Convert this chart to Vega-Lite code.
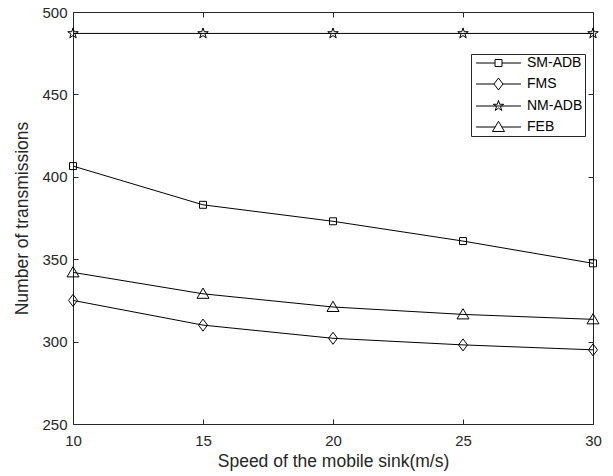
{
  "$schema": "https://vega.github.io/schema/vega-lite/v6.json",
  "width": 520,
  "height": 412,
  "autosize": "none",
  "padding": {"left": 73, "top": 12, "right": 20, "bottom": 52},
  "background": "white",
  "config": {
    "font": "Liberation Sans",
    "view": {"stroke": null},
    "axis": {
      "domainColor": "#262626",
      "domainWidth": 1,
      "tickColor": "#262626",
      "tickWidth": 1,
      "tickSize": -5,
      "grid": false,
      "labelFlush": false,
      "labelColor": "#262626",
      "labelFont": "Liberation Sans",
      "labelFontSize": 15,
      "titleFont": "Liberation Sans",
      "titleFontSize": 17.5,
      "titleFontWeight": "normal",
      "titleColor": "#262626"
    }
  },
  "data": {
    "values": [
      {"series": "SM-ADB", "speed": 10, "value": 406.5},
      {"series": "SM-ADB", "speed": 15, "value": 383},
      {"series": "SM-ADB", "speed": 20, "value": 373},
      {"series": "SM-ADB", "speed": 25, "value": 361},
      {"series": "SM-ADB", "speed": 30, "value": 347.5},
      {"series": "FMS", "speed": 10, "value": 325},
      {"series": "FMS", "speed": 15, "value": 310},
      {"series": "FMS", "speed": 20, "value": 302},
      {"series": "FMS", "speed": 25, "value": 298},
      {"series": "FMS", "speed": 30, "value": 295},
      {"series": "NM-ADB", "speed": 10, "value": 487},
      {"series": "NM-ADB", "speed": 15, "value": 487},
      {"series": "NM-ADB", "speed": 20, "value": 487},
      {"series": "NM-ADB", "speed": 25, "value": 487},
      {"series": "NM-ADB", "speed": 30, "value": 487},
      {"series": "FEB", "speed": 10, "value": 342},
      {"series": "FEB", "speed": 15, "value": 329},
      {"series": "FEB", "speed": 20, "value": 321},
      {"series": "FEB", "speed": 25, "value": 316.5},
      {"series": "FEB", "speed": 30, "value": 313.5}
    ]
  },
  "layer": [
    {
      "mark": {"type": "line", "color": "black", "strokeWidth": 1},
      "encoding": {
        "x": {"field": "speed", "type": "quantitative", "scale": {"domain": [10, 30], "nice": false, "zero": false},
              "axis": {"orient": "bottom", "values": [10, 15, 20, 25, 30], "title": "Speed of the mobile sink(m/s)", "labelPadding": 14, "titlePadding": 4}},
        "y": {"field": "value", "type": "quantitative", "scale": {"domain": [250, 500], "nice": false, "zero": false},
              "axis": {"orient": "left", "values": [250, 300, 350, 400, 450, 500], "title": "Number of transmissions", "labelPadding": 11, "titlePadding": 10}},
        "detail": {"field": "series"}
      }
    },
    {
      "mark": {"type": "point", "filled": false, "stroke": "black", "strokeWidth": 1, "opacity": 1, "size": 144},
      "encoding": {
        "x": {"field": "speed", "type": "quantitative", "axis": null},
        "y": {"field": "value", "type": "quantitative", "axis": null},
        "shape": {
          "field": "series", "type": "nominal",
          "scale": {
            "domain": ["SM-ADB", "FMS", "NM-ADB", "FEB"],
            "range": [
              "M-0.58,-0.58H0.58V0.58H-0.58Z",
              "M0,-1L0.75,0L0,1L-0.75,0Z",
              "M0,-0.92L0.207,-0.284L0.875,-0.284L0.334,0.109L0.541,0.744L0,0.351L-0.541,0.744L-0.334,0.109L-0.875,-0.284L-0.207,-0.284Z",
              "M0,-0.95L1,0.75L-1,0.75Z"
            ]
          },
          "legend": null
        }
      }
    },
    {
      "mark": {"type": "point", "filled": false, "stroke": "black", "strokeWidth": 1, "opacity": 0, "size": 144},
      "encoding": {
        "x": {"field": "speed", "type": "quantitative",
              "axis": {"orient": "top", "values": [10, 15, 20, 25, 30], "labels": false, "title": null}},
        "y": {"field": "value", "type": "quantitative",
              "axis": {"orient": "right", "values": [250, 300, 350, 400, 450, 500], "labels": false, "title": null}},
        "shape": {
          "field": "series", "type": "nominal",
          "scale": {
            "domain": ["SM-ADB", "FMS", "NM-ADB", "FEB"],
            "range": [
              "M-0.67,0H2.5M3.67,0H6.83M2.5,-0.58H3.67V0.58H2.5Z",
              "M-0.67,0H2.33M3.83,0H6.83M3.08,-1L3.83,0L3.08,1L2.33,0Z",
              "M-0.67,0H6.83M3.083,-0.92L3.29,-0.284L3.958,-0.284L3.417,0.109L3.624,0.744L3.083,0.351L2.542,0.744L2.749,0.109L2.208,-0.284L2.876,-0.284Z",
              "M-0.67,0H2.52M3.64,0H6.83M3.08,-0.95L4.08,0.75L2.08,0.75Z"
            ]
          },
          "legend": {
            "title": null,
            "orient": "none",
            "legendX": 398,
            "legendY": 42,
            "strokeColor": "#262626",
            "fillColor": "white",
            "padding": 2,
            "symbolSize": 144,
            "symbolOpacity": 1,
            "symbolStrokeColor": "black",
            "symbolStrokeWidth": 1,
            "symbolFillColor": "transparent",
            "labelFont": "Liberation Sans",
            "labelFontSize": 14,
            "labelColor": "black",
            "labelOffset": 40,
            "labelExpr": "datum.label + '\u00a0\u00a0'",
            "rowPadding": 6
          }
        }
      }
    }
  ],
  "resolve": {"axis": {"x": "independent", "y": "independent"}, "scale": {"shape": "independent"}}
}
